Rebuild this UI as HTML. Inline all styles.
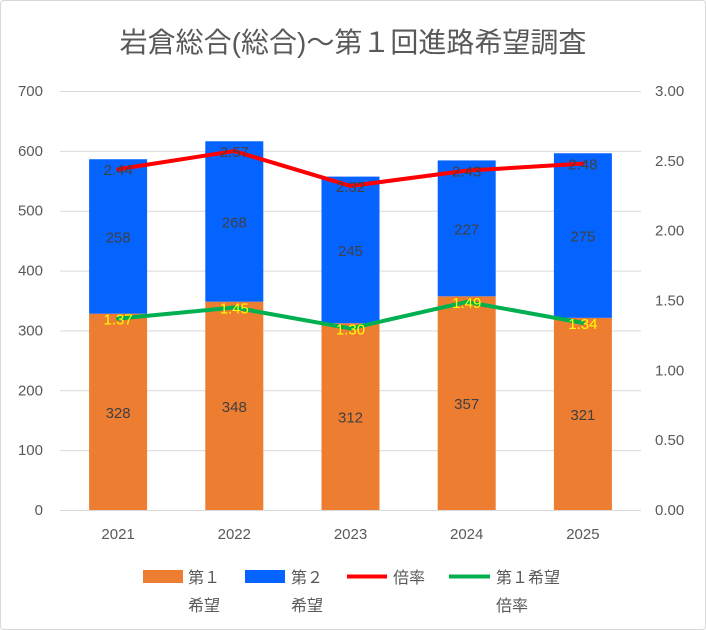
<!DOCTYPE html>
<html><head><meta charset="utf-8"><style>
body{margin:0;background:#fff;}
svg{display:block;font-family:"Liberation Sans","Noto Sans CJK JP",sans-serif;}
</style></head><body>
<svg id="c" width="706" height="630">
<rect x="0.5" y="0.5" width="705" height="629" rx="3" fill="#fff" stroke="#d9d9d9"/>
<text x="353" y="52" text-anchor="middle" font-size="28" fill="#595959">岩倉総合(総合)～第１回進路希望調査</text>
<g id="grid"></g><g id="bars"></g><g id="lines"></g><g id="labels"></g>
<g font-size="16" fill="#595959">
<rect x="143" y="570" width="40" height="13" fill="#ED7D31"/>
<text x="188" y="583">第１</text>
<text x="188" y="611">希望</text>
<rect x="245" y="570" width="40" height="13" fill="#0563FF"/>
<text x="291" y="583">第２</text>
<text x="291" y="611">希望</text>
<line x1="347" y1="576.5" x2="387" y2="576.5" stroke="#FF0000" stroke-width="4"/>
<text x="393" y="583">倍率</text>
<line x1="449" y1="576.5" x2="490" y2="576.5" stroke="#00B050" stroke-width="4"/>
<text x="496" y="583">第１希望</text>
<text x="496" y="611">倍率</text>
</g>
</svg>
<script>
const categories=["2021","2022","2023","2024","2025"];
const first=[328,348,312,357,321];
const second=[258,268,245,227,275];
const ratio=[2.44,2.57,2.32,2.43,2.48];
const firstRatio=[1.37,1.45,1.30,1.49,1.34];
const leftTicks=[0,100,200,300,400,500,600,700];
const rightTicks=["0.00","0.50","1.00","1.50","2.00","2.50","3.00"];
const NS="http://www.w3.org/2000/svg";
const X0=60,X1=641,Y0=510,Y1=91;
const yL=v=>Y0-(v/700)*(Y0-Y1);
const yR=v=>Y0-(v/3)*(Y0-Y1);
const step=(X1-X0)/categories.length;
const xC=i=>X0+step*(i+0.5);
const bw=58;
function mk(t,a,p){const e=document.createElementNS(NS,t);for(const k in a)e.setAttribute(k,a[k]);p.appendChild(e);return e;}
const g=document.getElementById('grid'),b=document.getElementById('bars'),l=document.getElementById('lines'),lb=document.getElementById('labels');
leftTicks.forEach(v=>{
 const ln=mk('line',{x1:X0,x2:X1,y1:yL(v)+0.5,y2:yL(v)+0.5,stroke:'#d9d9d9'},g);
 
 
 const t=mk('text',{x:43,y:yL(v)+5,'text-anchor':'end','font-size':15,fill:'#595959'},g);t.textContent=v;
 
 
});
rightTicks.forEach(s=>{
 const t=mk('text',{x:655,y:yR(+s)+5,'font-size':15,fill:'#595959'},g);t.textContent=s;
 
 
});
categories.forEach((c,i)=>{
 const t=mk('text',{x:xC(i),y:539,'text-anchor':'middle','font-size':15,fill:'#595959'},g);t.textContent=c;
 
 
 const r1=mk('rect',{x:xC(i)-bw/2,y:yL(first[i]),width:bw,height:Y0-yL(first[i]),fill:'#ED7D31'},b);
 
 
 const top=first[i]+second[i];
 const r2=mk('rect',{x:xC(i)-bw/2,y:yL(top),width:bw,height:yL(first[i])-yL(top),fill:'#0563FF'},b);
 
 
 const t1=mk('text',{x:xC(i),y:yL(first[i]/2)+6,'text-anchor':'middle','font-size':15,fill:'#404040'},lb);t1.textContent=first[i];
 
 
 const t2=mk('text',{x:xC(i),y:yL(first[i]+second[i]/2)+6,'text-anchor':'middle','font-size':15,fill:'#404040'},lb);t2.textContent=second[i];
 
 
 const t3=mk('text',{x:xC(i),y:yR(ratio[i])+6,'text-anchor':'middle','font-size':15,fill:'#404040'},lb);t3.textContent=ratio[i].toFixed(2);
 
 
 const t4=mk('text',{x:xC(i),y:yR(firstRatio[i])+6,'text-anchor':'middle','font-size':15,fill:'#FFFF00'},lb);t4.textContent=firstRatio[i].toFixed(2);
 
 
});
const p1=mk('polyline',{points:ratio.map((v,i)=>xC(i)+','+yR(v)).join(' '),fill:'none',stroke:'#FF0000','stroke-width':4,'stroke-linejoin':'round','stroke-linecap':'round'},l);


const p2=mk('polyline',{points:firstRatio.map((v,i)=>xC(i)+','+yR(v)).join(' '),fill:'none',stroke:'#00B050','stroke-width':4,'stroke-linejoin':'round','stroke-linecap':'round'},l);


</script>
</body></html>
